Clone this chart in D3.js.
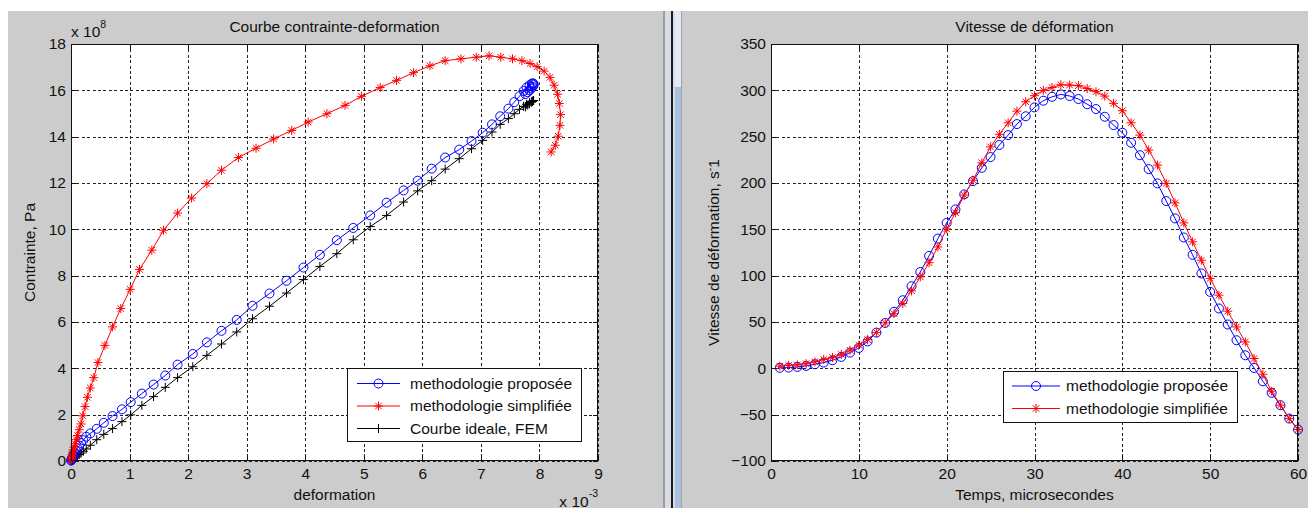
<!DOCTYPE html>
<html><head><meta charset="utf-8">
<script src="https://cdn.jsdelivr.net/npm/d3@7"></script>
<style>
body{margin:0;background:#fff;}
svg{display:block;}
text{font-family:"Liberation Sans",Arial,sans-serif;fill:#111;}
</style></head>
<body><svg id="c" width="1308" height="508"></svg>
<script>
// ---------- Left chart data (strain x1e-3, stress x1e8 Pa) ----------
const propStrain = [0.003,0.008,0.015,0.025,0.035,0.05,0.065,0.085,0.11,0.14,0.17,0.21,0.26,0.33,0.44,0.56,0.71,0.87,1.02,1.21,1.41,1.61,1.82,2.08,2.32,2.57,2.83,3.10,3.39,3.68,3.97,4.25,4.54,4.82,5.11,5.39,5.68,5.92,6.16,6.39,6.63,6.84,7.03,7.19,7.33,7.47,7.57,7.66,7.73,7.78,7.83,7.87,7.89,7.90,7.90,7.88,7.86,7.83,7.80,7.76];
const propStress = [0.02,0.05,0.1,0.15,0.2,0.27,0.35,0.44,0.55,0.66,0.78,0.9,1.05,1.19,1.39,1.65,1.94,2.23,2.54,2.91,3.30,3.69,4.16,4.62,5.12,5.62,6.09,6.70,7.23,7.78,8.35,8.90,9.53,10.06,10.60,11.15,11.68,12.10,12.62,13.10,13.44,13.81,14.17,14.53,14.88,15.21,15.49,15.75,15.97,16.12,16.22,16.29,16.30,16.27,16.22,16.15,16.08,16.00,15.92,15.84];
const simpStrain = [0.005,0.01,0.015,0.02,0.03,0.04,0.055,0.07,0.09,0.11,0.14,0.17,0.20,0.24,0.28,0.33,0.39,0.46,0.58,0.71,0.85,1.01,1.17,1.38,1.58,1.82,2.06,2.32,2.57,2.86,3.16,3.46,3.77,4.05,4.37,4.68,4.96,5.28,5.56,5.85,6.13,6.39,6.66,6.92,7.14,7.34,7.54,7.70,7.84,7.96,8.08,8.18,8.25,8.31,8.34,8.36,8.35,8.32,8.27,8.20];
const simpStress = [0.05,0.12,0.2,0.28,0.38,0.48,0.6,0.75,0.92,1.1,1.35,1.6,1.95,2.35,2.75,3.15,3.6,4.25,4.99,5.79,6.58,7.41,8.27,9.1,9.96,10.7,11.35,11.97,12.55,13.1,13.5,13.9,14.27,14.63,14.99,15.35,15.74,16.12,16.43,16.76,17.06,17.28,17.36,17.43,17.49,17.43,17.36,17.28,17.16,17.02,16.83,16.56,16.22,15.83,15.43,14.95,14.49,14.02,13.63,13.34];
const femStrain = propStrain;
const femStress = [0.006,0.016,0.03,0.05,0.07,0.1,0.13,0.17,0.22,0.28,0.34,0.42,0.52,0.68,0.92,1.15,1.40,1.70,1.99,2.40,2.78,3.18,3.60,4.07,4.56,5.05,5.57,6.14,6.68,7.25,7.83,8.40,8.95,9.55,10.12,10.60,11.18,11.66,12.10,12.60,13.05,13.48,13.84,14.20,14.53,14.78,14.99,15.18,15.31,15.40,15.47,15.52,15.55,15.56,15.56,15.52,15.48,15.42,15.36,15.28];
const leftXTicks = [0,1,2,3,4,5,6,7,8,9];
const leftYTicks = [0,2,4,6,8,10,12,14,16,18];

// ---------- Right chart data (time µs, strain rate s^-1) ----------
const timeUs = d3.range(1, 61);
const rateProp = [0.5,0.8,1.5,2.6,4.4,6.2,8.7,12.3,17,22,29,38.6,49,61,73.5,88.6,104,121.4,140,157,171.5,187.7,202,216.4,228,241,251.7,263.6,272,281.6,288.8,293,295.6,293.9,290.6,285,279.8,271.5,262.5,254.2,243.4,230,215,199.6,180.5,161.8,141.2,122.5,102.4,82.5,64.6,47.3,30.3,14.1,0.4,-14,-26.5,-39.8,-54.2,-66];
const rateSimp = [2.3,3.3,3.7,5,7,9.5,11.6,15,19.5,25,31,38.6,49,59,70,83.6,98.7,114,131,150.5,168,187,203,221.8,239,252.5,265,277.6,287.7,294.2,300,303,306,305.7,305,302,298.5,293.8,286,278,265,251.7,235.5,219.3,199.6,178.6,157,136.5,116.7,97,79,61.7,44.7,28.5,10.6,-6.4,-24.7,-39.8,-54.2,-66];
const rightXTicks = [0,10,20,30,40,50,60];
const rightYTicks = [-100,-50,0,50,100,150,200,250,300,350];

const legendLeft = ["methodologie proposée","methodologie simplifiée","Courbe ideale, FEM"];
const legendRight = ["methodologie proposée","methodologie simplifiée"];

const FS = 15.5;
const svg = d3.select("#c");
const GRAY = "#cccccc";

// background panels
svg.append("rect").attr("x",0).attr("y",0).attr("width",1308).attr("height",508).attr("fill","#fff");
svg.append("rect").attr("x",8).attr("y",11).attr("width",655).attr("height",497).attr("fill",GRAY);
svg.append("rect").attr("x",682).attr("y",11).attr("width",626).attr("height",497).attr("fill",GRAY);
// divider
const div = svg.append("g");
div.append("rect").attr("x",663).attr("y",11).attr("width",2).attr("height",497).attr("fill","#9a9ea3");
div.append("rect").attr("x",665).attr("y",11).attr("width",6).attr("height",497).attr("fill","#d9dde1");
div.append("rect").attr("x",671).attr("y",11).attr("width",2).attr("height",497).attr("fill","#1c1c1c");
div.append("rect").attr("x",673).attr("y",11).attr("width",2).attr("height",497).attr("fill","#d6dde6");
div.append("rect").attr("x",675).attr("y",11).attr("width",6).attr("height",497).attr("fill","#a9c0dd");
div.append("rect").attr("x",675).attr("y",11).attr("width",6).attr("height",76).attr("fill","#e3eaf3");
div.append("rect").attr("x",681).attr("y",11).attr("width",1).attr("height",497).attr("fill","#a0a4a8");

function marker(g, type, x, y, color){
  const s = 4.5;
  if(type==="o"){
    g.append("circle").attr("cx",x).attr("cy",y).attr("r",s).attr("fill","none").attr("stroke",color).attr("stroke-width",1);
  } else if(type==="*"){
    const d = s*0.72;
    g.append("path").attr("d",`M${x-s},${y}H${x+s}M${x},${y-s}V${y+s}M${x-d},${y-d}L${x+d},${y+d}M${x-d},${y+d}L${x+d},${y-d}`)
      .attr("stroke",color).attr("stroke-width",1).attr("fill","none");
  } else {
    g.append("path").attr("d",`M${x-s},${y}H${x+s}M${x},${y-s}V${y+s}`)
      .attr("stroke",color).attr("stroke-width",1).attr("fill","none");
  }
}

function drawAxes(x, y, xt, yt, L, R, T, B){
  const g = svg.append("g");
  g.append("rect").attr("x",L).attr("y",T).attr("width",R-L).attr("height",B-T).attr("fill","#fff");
  const grid = g.append("g").attr("stroke","#222").attr("stroke-width",1).attr("stroke-dasharray","3,2.4").attr("shape-rendering","crispEdges");
  xt.forEach(v=>{ grid.append("line").attr("x1",Math.round(x(v))+0.5).attr("x2",Math.round(x(v))+0.5).attr("y1",T).attr("y2",B); });
  yt.forEach(v=>{ grid.append("line").attr("y1",Math.round(y(v))+0.5).attr("y2",Math.round(y(v))+0.5).attr("x1",L).attr("x2",R); });
  const ax = g.append("g").attr("transform",`translate(0,${B})`).call(d3.axisBottom(x).tickValues(xt).tickSizeInner(-5).tickSizeOuter(0).tickPadding(7));
  const ay = g.append("g").attr("transform",`translate(${L},0)`).call(d3.axisLeft(y).tickValues(yt).tickSizeInner(-5).tickSizeOuter(0).tickPadding(5));
  const at = g.append("g").attr("transform",`translate(0,${T})`).call(d3.axisTop(x).tickValues(xt).tickSizeInner(-5).tickSizeOuter(0).tickFormat(""));
  const ar = g.append("g").attr("transform",`translate(${R},0)`).call(d3.axisRight(y).tickValues(yt).tickSizeInner(-5).tickSizeOuter(0).tickFormat(""));
  [ax,ay,at,ar].forEach(a=>{
    a.selectAll("path.domain").remove();
    a.selectAll("line").attr("stroke","#111").attr("shape-rendering","crispEdges");
    a.selectAll("text").attr("font-size",FS).attr("font-family","Liberation Sans, Arial, sans-serif").attr("fill","#111");
  });
  return g;
}
function drawBox(L,R,T,B){
  svg.append("rect").attr("x",L+0.5).attr("y",T+0.5).attr("width",R-L-1).attr("height",B-T-1)
    .attr("fill","none").attr("stroke","#111").attr("stroke-width",1).attr("shape-rendering","crispEdges");
}
function series(xs, ys, x, y, color, type){
  const g = svg.append("g");
  const pts = xs.map((v,i)=>[x(v), y(ys[i])]);
  g.append("path").attr("d", d3.line()(pts)).attr("fill","none").attr("stroke",color).attr("stroke-width",1);
  pts.forEach(p=>marker(g,type,p[0],p[1],color));
}
function legend(L,T,W,H,labels,colors,types,rowY,lineX0,lineX1,textX){
  const g = svg.append("g");
  g.append("rect").attr("x",L+0.5).attr("y",T+0.5).attr("width",W).attr("height",H).attr("fill","#fff").attr("stroke","#111").attr("stroke-width",1);
  labels.forEach((lab,i)=>{
    const yy = rowY[i];
    g.append("line").attr("x1",lineX0).attr("x2",lineX1).attr("y1",yy).attr("y2",yy).attr("stroke",colors[i]).attr("stroke-width",1);
    marker(g,types[i],(lineX0+lineX1)/2,yy,colors[i]);
    g.append("text").attr("x",textX).attr("y",yy).attr("dy","0.35em").attr("font-size",FS).text(lab);
  });
}

// ---------- Left chart ----------
const xL = d3.scaleLinear().domain([0,9]).range([71,598]);
const yL = d3.scaleLinear().domain([0,18]).range([461,44]);
drawAxes(xL,yL,leftXTicks,leftYTicks,71,598,44,461);
series(femStrain, femStress, xL, yL, "#000", "+");
series(propStrain, propStress, xL, yL, "#0000ff", "o");
series(simpStrain, simpStress, xL, yL, "#ff0000", "*");
drawBox(71,598,44,461);
legend(347,368,234,73,legendLeft,["#0000ff","#ff0000","#000"],["o","*","+"],[383.5,406,428.5],357,400,410);

svg.append("text").attr("x",334.5).attr("y",31.5).attr("text-anchor","middle").attr("font-size",FS).text("Courbe contrainte-deformation");
svg.append("text").attr("x",334.5).attr("y",500).attr("text-anchor","middle").attr("font-size",FS).text("deformation");
svg.append("text").attr("transform","translate(35,252.5) rotate(-90)").attr("text-anchor","middle").attr("font-size",FS).text("Contrainte, Pa");
const e8 = svg.append("text").attr("x",71).attr("y",36.5).attr("font-size",FS);
e8.append("tspan").text("x 10");
e8.append("tspan").attr("dy",-8.5).attr("font-size",10.5).text("8");
const e3 = svg.append("text").attr("x",598).attr("y",506.5).attr("text-anchor","end").attr("font-size",FS);
e3.append("tspan").text("x 10");
e3.append("tspan").attr("dy",-10).attr("font-size",10.5).text("-3");

// ---------- Right chart ----------
const xR = d3.scaleLinear().domain([0,60]).range([771,1298]);
const yR = d3.scaleLinear().domain([-100,350]).range([461,44]);
drawAxes(xR,yR,rightXTicks,rightYTicks,771,1298,44,461);
series(timeUs, rateProp, xR, yR, "#0000ff", "o");
series(timeUs, rateSimp, xR, yR, "#ff0000", "*");
drawBox(771,1298,44,461);
legend(1003,371,234,51,legendRight,["#0000ff","#ff0000"],["o","*"],[386,408.5],1012,1060,1066);

svg.append("text").attr("x",1034.5).attr("y",31.5).attr("text-anchor","middle").attr("font-size",FS).text("Vitesse de déformation");
svg.append("text").attr("x",1034.5).attr("y",500).attr("text-anchor","middle").attr("font-size",FS).text("Temps, microsecondes");
const yl = svg.append("text").attr("transform","translate(719,252.5) rotate(-90)").attr("text-anchor","middle").attr("font-size",FS);
yl.append("tspan").text("Vitesse de déformation, s");
yl.append("tspan").attr("dy",-6).attr("font-size",10.5).text("-");
yl.append("tspan").attr("dy",6).text("1");
</script>
</body></html>
